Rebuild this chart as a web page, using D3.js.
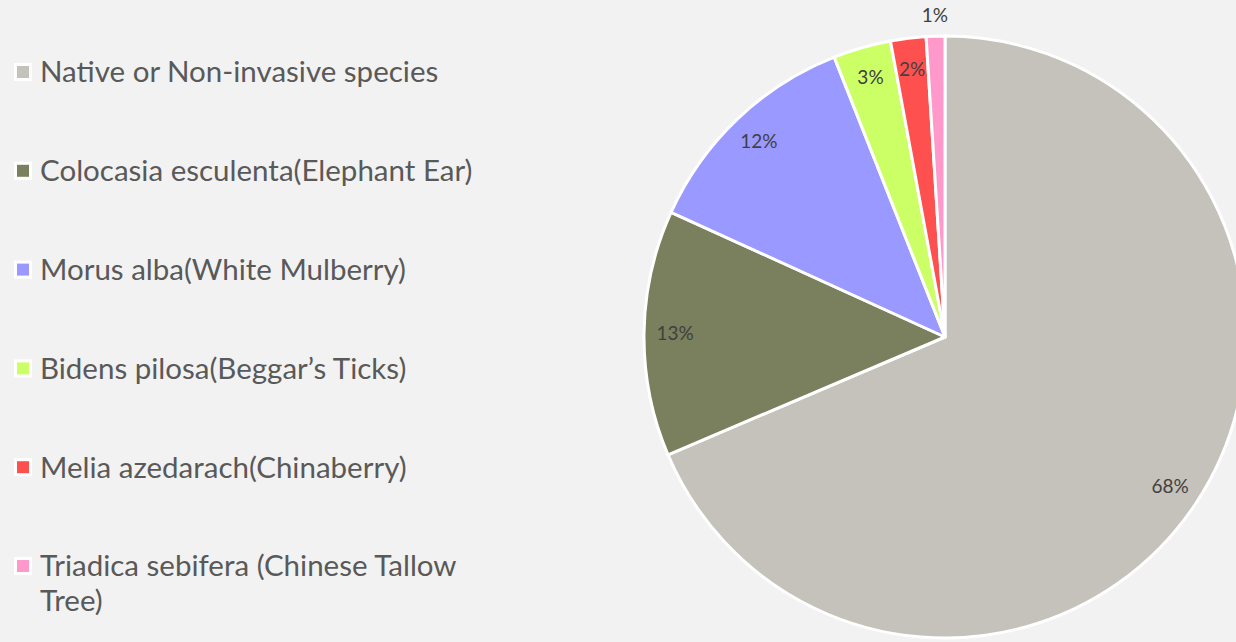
<!DOCTYPE html>
<html>
<head>
<meta charset="utf-8">
<script src="https://cdn.jsdelivr.net/npm/d3@7"></script>
<style>
  body { margin: 0; background: #f2f2f2; }
  svg { display: block; font-family: "Gill Sans", "Gill Sans MT", Lato, sans-serif; }
</style>
</head>
<body>
<script>
// species shares (percent)
var species = ["Native or Non-invasive species", "Colocasia esculenta(Elephant Ear)", "Morus alba(White Mulberry)",
               "Bidens pilosa(Beggar\u2019s Ticks)", "Melia azedarach(Chinaberry)", "Triadica sebifera (Chinese Tallow Tree)"];
var legendLines = [["Native or Non-invasive species"], ["Colocasia esculenta(Elephant Ear)"], ["Morus alba(White Mulberry)"],
                   ["Bidens pilosa(Beggar\u2019s Ticks)"], ["Melia azedarach(Chinaberry)"], ["Triadica sebifera (Chinese Tallow", "Tree)"]];
var shares = [68.6, 13.2, 12.2, 3.1, 1.9, 1.0];
var labels = ["68%", "13%", "12%", "3%", "2%", "1%"];
var colors = ["#c5c1bb", "#7a7f5e", "#9999ff", "#ccff66", "#ff5050", "#ff99cc"];

var svgWidth = 1236, svgHeight = 642;
var cx = 945, cy = 337, radius = 301;

var svg = d3.select("body").append("svg")
  .attr("width", svgWidth)
  .attr("height", svgHeight);

svg.append("rect").attr("width", svgWidth).attr("height", svgHeight).attr("fill", "#f2f2f2");

var data = shares.map(function(v, i){ return {name: species[i], value: v, label: labels[i], color: colors[i]}; });

var pie = d3.pie().sort(null).value(function(d){ return d.value; });
var arc = d3.arc().innerRadius(0).outerRadius(radius);
var labelArc = d3.arc().innerRadius(270).outerRadius(270);
var outerLabelArc = d3.arc().innerRadius(322).outerRadius(322);

var g = svg.append("g").attr("transform", "translate(" + cx + "," + cy + ")");
var arcs = pie(data);

g.selectAll("path.slice")
  .data(arcs)
  .enter().append("path")
    .attr("class", "slice")
    .attr("d", arc)
    .attr("fill", function(d){ return d.data.color; })
    .attr("stroke", "#ffffff")
    .attr("stroke-width", 3)
    .attr("stroke-linejoin", "round");

g.selectAll("text.lbl")
  .data(arcs)
  .enter().append("text")
    .attr("class", "lbl")
    .attr("transform", function(d){
      var c = (d.index === 5 ? outerLabelArc : labelArc).centroid(d);
      return "translate(" + c[0] + "," + c[1] + ")";
    })
    .attr("text-anchor", "middle")
    .attr("dy", "0.35em")
    .attr("fill", "#404040")
    .style("font-size", "19px")
    .text(function(d){ return d.data.label; });

// legend
var legend = svg.append("g").attr("class", "legend");
var rowY = d3.scaleLinear().domain([0, 5]).range([72, 566]);

var item = legend.selectAll("g.item")
  .data(data)
  .enter().append("g")
    .attr("class", "item")
    .attr("transform", function(d, i){ return "translate(0," + rowY(i) + ")"; });

item.append("rect")
  .attr("x", 14).attr("y", -9)
  .attr("width", 18).attr("height", 18)
  .attr("fill", "#ffffff");
item.append("rect")
  .attr("x", 17).attr("y", -6)
  .attr("width", 12).attr("height", 12)
  .attr("fill", function(d){ return d.color; });

item.append("text")
  .attr("x", 40)
  .attr("fill", "#595959")
  .style("font-size", "29.5px")
  .selectAll("tspan")
  .data(function(d, i){ return legendLines[i]; })
  .enter().append("tspan")
    .attr("x", 40)
    .attr("y", function(d, j){ return j * 35; })
    .attr("dy", "0.35em")
    .text(function(d){ return d; });
</script>
</body>
</html>
